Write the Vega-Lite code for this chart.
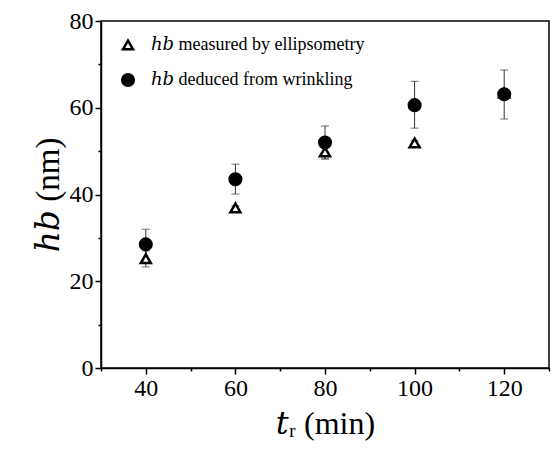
{
  "$schema": "https://vega.github.io/schema/vega-lite/v6.json",
  "width": 448,
  "height": 347,
  "autosize": {"type": "none"},
  "padding": {"left": 101, "top": 21, "right": 2, "bottom": 85},
  "background": "white",
  "config": {
    "font": "Liberation Serif",
    "view": {"stroke": "black", "strokeWidth": 1.5},
    "axis": {"labelFont": "Times New Roman", "titleFont": "Liberation Serif, DejaVu Serif, DejaVu Math TeX Gyre", "labelColor": "black", "titleColor": "black", "domainColor": "black", "tickColor": "black", "grid": false, "domainWidth": 1.5, "tickWidth": 1.5},
    "legend": {"labelFont": "Liberation Serif, DejaVu Serif", "labelColor": "black", "labelLimit": 400}
  },
  "data": {
    "values": [
      {"t": 40, "h": 25.2, "lo": 23.3, "hi": 27.0, "series": "ℎ𝑏 measured by ellipsometry"},
      {"t": 60, "h": 36.9, "lo": 36.4, "hi": 37.4, "series": "ℎ𝑏 measured by ellipsometry"},
      {"t": 80, "h": 49.8, "lo": 48.2, "hi": 51.2, "series": "ℎ𝑏 measured by ellipsometry"},
      {"t": 100, "h": 51.9, "lo": 51.4, "hi": 52.4, "series": "ℎ𝑏 measured by ellipsometry"},
      {"t": 120, "h": 63.4, "lo": 62.9, "hi": 63.9, "series": "ℎ𝑏 measured by ellipsometry"},
      {"t": 40, "h": 28.5, "lo": 25.0, "hi": 32.0, "series": "ℎ𝑏 deduced from wrinkling"},
      {"t": 60, "h": 43.5, "lo": 40.1, "hi": 47.0, "series": "ℎ𝑏 deduced from wrinkling"},
      {"t": 80, "h": 52.0, "lo": 48.2, "hi": 55.8, "series": "ℎ𝑏 deduced from wrinkling"},
      {"t": 100, "h": 60.6, "lo": 55.3, "hi": 66.1, "series": "ℎ𝑏 deduced from wrinkling"},
      {"t": 120, "h": 63.1, "lo": 57.4, "hi": 68.7, "series": "ℎ𝑏 deduced from wrinkling"}
    ]
  },
  "resolve": {"axis": {"x": "independent", "y": "independent"}},
  "layer": [
    {
      "mark": {"type": "errorbar", "ticks": {"size": 8, "strokeWidth": 1.2}, "color": "#333", "strokeWidth": 1.5},
      "encoding": {
        "x": {"field": "t", "type": "quantitative", "scale": {"domain": [30, 130], "nice": false},
          "axis": {"values": [30, 50, 70, 90, 110, 130], "labels": false, "domain": false, "tickSize": 3, "title": null, "orient": "bottom"}},
        "y": {"field": "lo", "type": "quantitative", "scale": {"domain": [0, 80], "nice": false},
          "axis": {"values": [10, 30, 50, 70], "labels": false, "domain": false, "tickSize": 3, "title": null, "orient": "left"}},
        "y2": {"field": "hi"}
      }
    },
    {
      "mark": {"type": "point", "opacity": 1, "strokeWidth": 2.5},
      "encoding": {
        "x": {"field": "t", "type": "quantitative",
          "axis": {"values": [40, 60, 80, 100, 120], "tickSize": 6, "labelFont": "Times New Roman", "labelFontSize": 24, "labelPadding": 2, "title": "𝑡ᵣ (min)", "titleFontSize": 32, "titleFontWeight": "normal", "titlePadding": 8, "orient": "bottom"}},
        "y": {"field": "h", "type": "quantitative",
          "axis": {"values": [0, 20, 40, 60, 80], "tickSize": 6, "labelFont": "Times New Roman", "labelFontSize": 24, "labelPadding": 2, "title": "ℎ𝑏 (nm)", "titleFontSize": 33, "titleFontWeight": "normal", "titlePadding": 4, "orient": "left"}},
        "shape": {"field": "series", "type": "nominal",
          "scale": {"domain": ["ℎ𝑏 measured by ellipsometry", "ℎ𝑏 deduced from wrinkling"], "range": ["triangle-up", "circle"]},
          "legend": {"title": null, "orient": "none", "legendX": 18, "legendY": 15, "labelFontSize": 18, "rowPadding": 14, "labelOffset": 14, "symbolStrokeColor": "black", "symbolStrokeWidth": 2.5}},
        "fill": {"field": "series", "type": "nominal",
          "scale": {"domain": ["ℎ𝑏 measured by ellipsometry", "ℎ𝑏 deduced from wrinkling"], "range": ["white", "black"]}},
        "size": {"field": "series", "type": "nominal",
          "scale": {"domain": ["ℎ𝑏 measured by ellipsometry", "ℎ𝑏 deduced from wrinkling"], "range": [100, 135]}},
        "stroke": {"value": "black"},
        "order": {"field": "series", "sort": "descending"}
      }
    }
  ]
}
